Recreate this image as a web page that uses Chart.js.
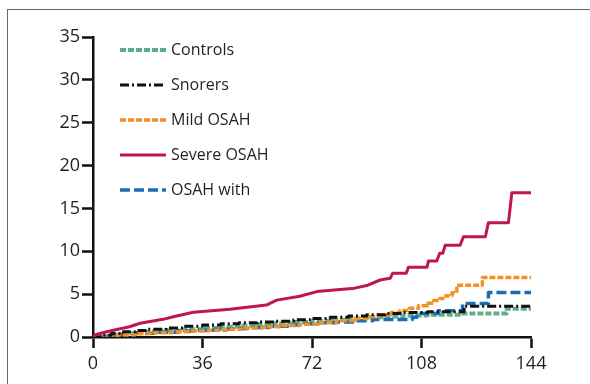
<!DOCTYPE html>
<html>
<head>
<meta charset="utf-8">
<script src="https://cdn.jsdelivr.net/npm/chart.js@4/dist/chart.umd.min.js"></script>
<style>
  html, body { margin:0; padding:0; background:#fff; }
  #wrap { position:relative; width:590px; height:384px; overflow:hidden; }
  #frame { position:absolute; left:7px; top:9px; width:640px; height:420px; border:1.5px solid #666; box-sizing:border-box; }
  #c { position:absolute; left:0; top:0; }
  #legend { position:absolute; left:119px; top:32px; font-family:"Open Sans", sans-serif; font-size:16px; color:#231f20; }
  .row { position:relative; height:35px; display:flex; align-items:center; }
  .row svg { width:48px; height:10px; margin-right:4px; }
  .row span { position:relative; top:-1px; }
</style>
</head>
<body>
<div id="wrap">
  <div id="frame"></div>
  <canvas id="c" width="590" height="384"></canvas>
  <div id="legend"></div>
</div>
<script>
// ---- data (time vs cumulative incidence, %) ----
const xTicks = [0, 36, 72, 108, 144];
const yTicks = [0, 5, 10, 15, 20, 25, 30, 35];
const seriesNames = ["Controls", "Snorers", "Mild OSAH", "Severe OSAH", "OSAH with"];

const controlsT = [0,4,8,12,18,24,30,36,42,48,54,60,66,72,78,84,90,96,102,110,121,136,144];
const controlsV = [0,0.15,0.3,0.45,0.6,0.75,0.9,1.05,1.2,1.35,1.45,1.6,1.75,1.9,2.0,2.15,2.3,2.4,2.5,2.6,2.75,3.3,3.3];

const snorersT = [0,3,6,10,14,18,24,30,36,42,48,54,60,66,72,78,84,90,96,102,110,122,144];
const snorersV = [0,0.2,0.4,0.6,0.75,0.9,1.05,1.25,1.4,1.55,1.65,1.75,1.85,2.0,2.15,2.3,2.45,2.6,2.75,2.85,2.95,3.6,3.6];

const mildT = [0,4,8,14,20,26,32,38,44,50,56,62,68,74,80,86,90,94,98,101,104,107,110,112,114,116,118,119.6,128,144];
const mildV = [0,0.1,0.25,0.4,0.5,0.6,0.7,0.8,0.9,1.05,1.2,1.35,1.5,1.7,1.9,2.15,2.35,2.6,2.85,3.1,3.35,3.65,3.95,4.25,4.5,4.8,5.15,6.05,6.95,6.95];

// Severe OSAH is drawn as a polyline; its jumps are given as point pairs
const severeT = [0,1,4.5,12,15.5,23,26.4,33,45,57,60.4,68,73.6,86,90,94.4,97.7,98.5,103,103.7,109.8,110.3,113,114,115,115.8,120.7,121.8,129,130,136.6,137.7,144];
const severeV = [0,0.3,0.62,1.2,1.6,2.06,2.37,2.88,3.23,3.73,4.3,4.75,5.3,5.7,6.0,6.65,6.85,7.43,7.43,8.13,8.13,8.87,8.87,9.77,9.77,10.7,10.7,11.7,11.7,13.34,13.34,16.84,16.84];

const osahWithT = [0,3,8,14,20,28,34,40,46,52,58,64,68,74,80,86,92,105,106.5,113.5,121.5,130,144];
const osahWithV = [0,0.1,0.3,0.45,0.55,0.7,0.8,0.9,1.0,1.1,1.25,1.4,1.55,1.65,1.75,1.9,2.05,2.3,2.75,3.05,3.9,5.2,5.2];

// ---- styles ----
const styles = [
  { color:"#5fae8b", width:4,   dash:[6,2],      stepped:true },
  { color:"#111111", width:3,   dash:[9,3,2,3],  stepped:true },
  { color:"#f29225", width:3.5, dash:[6,2],      stepped:true },
  { color:"#c0174a", width:3,   dash:[],         stepped:false },
  { color:"#1c6cb5", width:3.5, dash:[10,4],     stepped:true }
];

const pts = (t, v) => t.map((x, i) => ({ x: x, y: v[i] }));
const allData = [
  pts(controlsT, controlsV),
  pts(snorersT, snorersV),
  pts(mildT, mildV),
  pts(severeT, severeV),
  pts(osahWithT, osahWithV)
];

const drawOrder = [0, 4, 2, 1, 3];
const datasets = drawOrder.map((k, i) => ({
  label: seriesNames[k],
  data: allData[k],
  borderColor: styles[k].color,
  borderWidth: styles[k].width,
  borderDash: styles[k].dash,
  borderJoinStyle: 'round',
  stepped: styles[k].stepped,
  tension: 0,
  pointRadius: 0,
  fill: false,
  order: 5 - i
}));

const tickFont = { family: "'Open Sans', sans-serif", size: 18 };

new Chart(document.getElementById('c'), {
  type: 'line',
  data: { datasets },
  options: {
    responsive: false,
    animation: false,
    layout: { padding: { left: 0, top: 37, right: 59, bottom: 0 } },
    plugins: { legend: { display: false }, tooltip: { enabled: false } },
    scales: {
      x: {
        type: 'linear',
        min: 0, max: 144,
        afterBuildTicks: s => { s.ticks = xTicks.map(v => ({ value: v })); },
        afterFit: s => { s.height = 47; },
        border: { display: true, color: '#111', width: 2.5 },
        grid: { drawOnChartArea: false, drawTicks: true, tickLength: 11, tickWidth: 2.5, tickColor: '#111' },
        ticks: { color: '#231f20', font: tickFont, padding: 5, maxRotation: 0 }
      },
      y: {
        min: 0, max: 35,
        afterBuildTicks: s => { s.ticks = yTicks.map(v => ({ value: v })); },
        afterFit: s => { s.width = 93; },
        border: { display: true, color: '#111', width: 2.5 },
        grid: { drawOnChartArea: false, drawTicks: true, tickLength: 11, tickWidth: 2.5, tickColor: '#111' },
        ticks: { color: '#231f20', font: tickFont, padding: 2 }
      }
    }
  }
});

// ---- legend (HTML text) ----
const leg = document.getElementById('legend');
seriesNames.forEach((name, k) => {
  const st = styles[k];
  const row = document.createElement('div');
  row.className = 'row';
  row.innerHTML = '<svg viewBox="0 0 48 10"><line x1="1" y1="5" x2="47" y2="5" stroke="' + st.color +
    '" stroke-width="' + st.width + '" stroke-dasharray="' + (st.dash.length ? st.dash.join(',') : 'none') +
    '"/></svg><span>' + name + '</span>';
  leg.appendChild(row);
});
</script>
</body>
</html>
